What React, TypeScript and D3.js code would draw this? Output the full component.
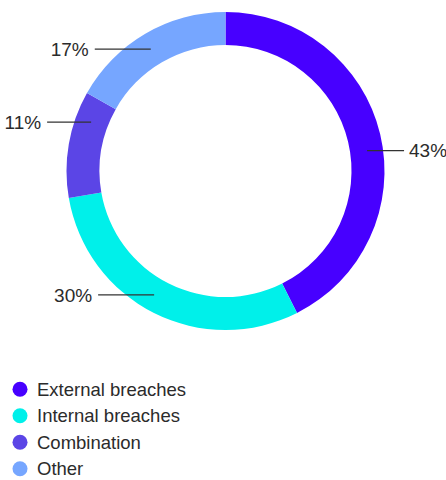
import React from "react";
import * as d3 from "d3";

const categories = ["External breaches", "Internal breaches", "Combination", "Other"];
const values = [43, 30, 11, 17];
const labels = ["43%", "30%", "11%", "17%"];
const colors = ["#4700FF", "#00F0EA", "#5B45E6", "#76A6FF"];
// label placement: position within slice (fraction of its angle) and leader length
const labelFraction = [0.534, 0.53, 0.76, 0.48];
const leaderLength = [37, 56, 44, 56];

const W = 446;
const H = 480;
const cx = 225.5;
const cy = 171;
const outerR = 159;
const innerR = 126;
const leaderR = 143;

export default function App() {
  const pie = d3.pie<number>().sort(null).value((d) => d);
  const arcs = pie(values);
  const arcGen = d3.arc<d3.PieArcDatum<number>>().innerRadius(innerR).outerRadius(outerR);
  const font = "'Liberation Sans', Arial, sans-serif";
  const legendY = d3.scaleBand<string>().domain(categories).range([376, 482]).paddingInner(0);

  return (
    <svg width={W} height={H} style={{ position: "absolute", left: 0, top: 0 }}>
      <rect width={W} height={H} fill="#fff" />
      <g transform={`translate(${cx},${cy})`}>
        {arcs.map((a, i) => (
          <path key={i} d={arcGen(a) || ""} fill={colors[i]} />
        ))}
        {arcs.map((a, i) => {
          const ang = a.startAngle + (a.endAngle - a.startAngle) * labelFraction[i];
          const x1 = leaderR * Math.sin(ang);
          const y1 = -leaderR * Math.cos(ang);
          const right = Math.sin(ang) > 0;
          const x2 = right ? x1 + leaderLength[i] : x1 - leaderLength[i];
          return (
            <g key={"l" + i}>
              <line x1={x1} y1={y1} x2={x2} y2={y1} stroke="#333" strokeWidth={1.3} />
              <text
                x={right ? x2 + 5 : x2 - 6}
                y={y1}
                dy="0.35em"
                textAnchor={right ? "start" : "end"}
                fontFamily={font}
                fontSize={19}
                fill="#2b2b2b"
              >
                {labels[i]}
              </text>
            </g>
          );
        })}
      </g>
      {categories.map((c, i) => {
        const y = (legendY(c) || 0) + legendY.bandwidth() / 2;
        return (
          <g key={"lg" + i}>
            <circle cx={20} cy={y} r={7.5} fill={colors[i]} />
            <text x={37} y={y} dy="0.35em" fontFamily={font} fontSize={18.5} fill="#2b2b2b">
              {c}
            </text>
          </g>
        );
      })}
    </svg>
  );
}
